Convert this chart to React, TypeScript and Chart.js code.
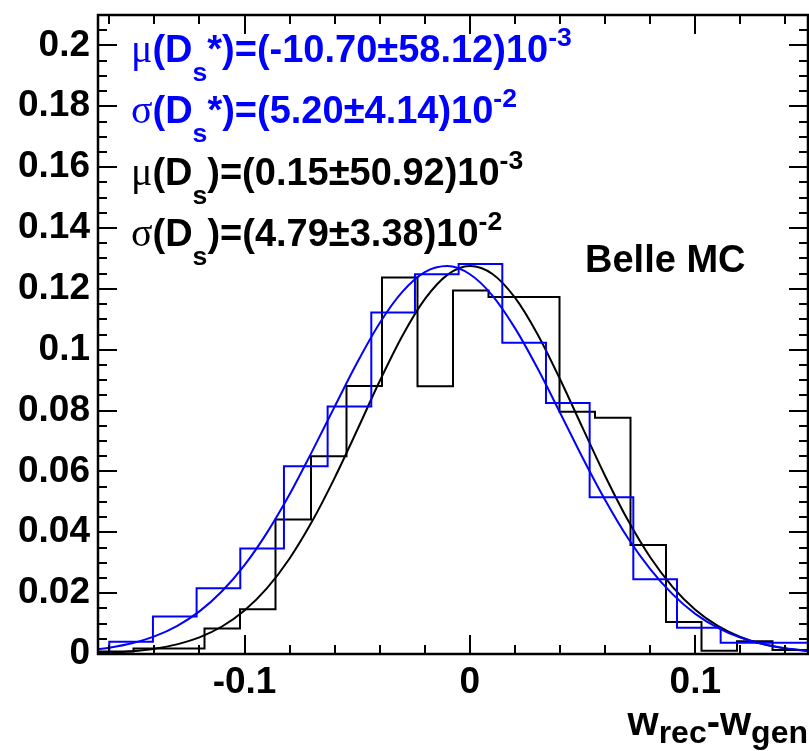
import React, { useEffect, useRef } from 'react';
import { Chart, registerables } from 'chart.js';

Chart.register(...registerables);

// ---- data ----
const blackEdges = [-0.165, -0.14925, -0.1335, -0.11775, -0.102, -0.08625, -0.0705, -0.05475, -0.039, -0.02325, -0.0075, 0.00825, 0.024, 0.03975, 0.0555, 0.07125, 0.087, 0.10275, 0.1185, 0.13425, 0.15];
const blackValues = [0.0008, 0.0018, 0.0018, 0.0084, 0.0147, 0.0442, 0.065, 0.0881, 0.1237, 0.088, 0.1195, 0.1173, 0.1173, 0.0796, 0.0776, 0.0358, 0.0105, 0.0011, 0.0042, 0.0013];

const blueEdges = [-0.16, -0.140625, -0.12125, -0.101875, -0.0825, -0.063125, -0.04375, -0.024375, -0.005, 0.014375, 0.03375, 0.053125, 0.0725, 0.091875, 0.11125, 0.130625, 0.15];
const blueValues = [0.004, 0.0123, 0.0216, 0.0347, 0.0617, 0.0813, 0.1122, 0.1248, 0.1282, 0.1023, 0.0825, 0.0515, 0.0246, 0.0086, 0.0037, 0.0037];

const fitX = [-0.165, -0.16, -0.15, -0.14, -0.13, -0.12, -0.11, -0.1, -0.09, -0.08, -0.07, -0.06, -0.05, -0.04, -0.03, -0.02, -0.01, 0, 0.01, 0.02, 0.03, 0.04, 0.05, 0.06, 0.07, 0.08, 0.09, 0.1, 0.11, 0.12, 0.13, 0.14, 0.15];
const blackFit = [0.00033, 0.00047, 0.00093, 0.00176, 0.00317, 0.00547, 0.00904, 0.0143, 0.02165, 0.0314, 0.0436, 0.0579, 0.0736, 0.0897, 0.1045, 0.1166, 0.1246, 0.1275, 0.1249, 0.1171, 0.1051, 0.0903, 0.0743, 0.0585, 0.0441, 0.0318, 0.022, 0.01455, 0.00921, 0.00559, 0.00324, 0.0018, 0.00096];
const blueFit = [0.00156, 0.00207, 0.00353, 0.00579, 0.00917, 0.014, 0.0206, 0.0292, 0.0399, 0.0525, 0.0666, 0.0813, 0.0958, 0.1088, 0.119, 0.1255, 0.1275, 0.1248, 0.1178, 0.1071, 0.0939, 0.0793, 0.0645, 0.0506, 0.0382, 0.0279, 0.0196, 0.0132, 0.00862, 0.00542, 0.00328, 0.00191, 0.00107];

const xLabelTicks = [-0.1, 0, 0.1];
const xMinorTicks = [-0.16, -0.14, -0.12, -0.08, -0.06, -0.04, -0.02, 0.02, 0.04, 0.06, 0.08, 0.12, 0.14];
const yLabelTicks = [0, 0.02, 0.04, 0.06, 0.08, 0.1, 0.12, 0.14, 0.16, 0.18, 0.2];
const yMinorTicks = [0.005, 0.01, 0.015, 0.025, 0.03, 0.035, 0.045, 0.05, 0.055, 0.065, 0.07, 0.075, 0.085, 0.09, 0.095, 0.105, 0.11, 0.115, 0.125, 0.13, 0.135, 0.145, 0.15, 0.155, 0.165, 0.17, 0.175, 0.185, 0.19, 0.195, 0.205];

const BLUE = '#0000ff';
const BLACK = '#000000';

type Part = { t: string; kind?: 'sub' | 'sup' | 'greek' };

const statLines: { color: string; parts: Part[] }[] = [
  { color: BLUE, parts: [{ t: 'μ', kind: 'greek' }, { t: '(D' }, { t: 's', kind: 'sub' }, { t: '*)=(-10.70±58.12)10' }, { t: '-3', kind: 'sup' }] },
  { color: BLUE, parts: [{ t: 'σ', kind: 'greek' }, { t: '(D' }, { t: 's', kind: 'sub' }, { t: '*)=(5.20±4.14)10' }, { t: '-2', kind: 'sup' }] },
  { color: BLACK, parts: [{ t: 'μ', kind: 'greek' }, { t: '(D' }, { t: 's', kind: 'sub' }, { t: ')=(0.15±50.92)10' }, { t: '-3', kind: 'sup' }] },
  { color: BLACK, parts: [{ t: 'σ', kind: 'greek' }, { t: '(D' }, { t: 's', kind: 'sub' }, { t: ')=(4.79±3.38)10' }, { t: '-2', kind: 'sup' }] },
];
const experimentLabel = 'Belle MC';
const xTitleParts: Part[] = [{ t: 'w' }, { t: 'rec', kind: 'sub' }, { t: '-w' }, { t: 'gen', kind: 'sub' }];

const SANS = '"Liberation Sans", Arial, Helvetica, sans-serif';
const SERIF = '"Liberation Serif", "Times New Roman", serif';

function histPoints(edges: number[], values: number[]) {
  const pts: { x: number; y: number }[] = [{ x: edges[0], y: 0 }];
  values.forEach((v, i) => pts.push({ x: edges[i], y: v }));
  pts.push({ x: edges[edges.length - 1], y: values[values.length - 1] });
  pts.push({ x: edges[edges.length - 1], y: 0 });
  return pts;
}

function setFont(ctx: CanvasRenderingContext2D, p: Part, size: number, subScale: number) {
  const fs = p.kind === 'sub' || p.kind === 'sup' ? size * subScale : size;
  ctx.font = p.kind === 'greek' ? `${fs * 1.05}px ${SERIF}` : `bold ${fs}px ${SANS}`;
}

function measureRich(ctx: CanvasRenderingContext2D, parts: Part[], size: number, subScale: number) {
  let w = 0;
  for (const p of parts) {
    setFont(ctx, p, size, subScale);
    w += ctx.measureText(p.t).width;
  }
  return w;
}

function drawRich(ctx: CanvasRenderingContext2D, x: number, y: number, parts: Part[], color: string, size: number, subScale: number, subDrop: number) {
  let cx = x;
  ctx.fillStyle = color;
  ctx.textAlign = 'left';
  ctx.textBaseline = 'alphabetic';
  for (const p of parts) {
    setFont(ctx, p, size, subScale);
    let dy = 0;
    if (p.kind === 'sub') dy = size * subDrop;
    if (p.kind === 'sup') dy = -size * 0.42;
    ctx.fillText(p.t, cx, y + dy);
    cx += ctx.measureText(p.t).width;
  }
}

const framePlugin = {
  id: 'rootFrame',
  afterDatasetsDraw(chart: any) {
    const { ctx, chartArea, scales } = chart;
    const { left, right, top, bottom } = chartArea;
    const x = scales.x;
    const y = scales.y;
    ctx.save();
    ctx.strokeStyle = BLACK;
    ctx.lineWidth = 2;
    ctx.lineCap = 'butt';
    const seg = (x1: number, y1: number, x2: number, y2: number) => {
      ctx.beginPath();
      ctx.moveTo(x1, y1);
      ctx.lineTo(x2, y2);
      ctx.stroke();
    };
    const MAJ = 19;
    const MIN = 9;
    for (const v of xLabelTicks) {
      const px = Math.round(x.getPixelForValue(v));
      seg(px, bottom, px, bottom - MAJ);
      seg(px, top, px, top + MAJ);
    }
    for (const v of xMinorTicks) {
      const px = Math.round(x.getPixelForValue(v));
      seg(px, bottom, px, bottom - MIN);
      seg(px, top, px, top + MIN);
    }
    for (const v of yLabelTicks) {
      const py = Math.round(y.getPixelForValue(v));
      seg(left, py, left + MAJ, py);
      seg(right, py, right - MAJ, py);
    }
    for (const v of yMinorTicks) {
      const py = Math.round(y.getPixelForValue(v));
      seg(left, py, left + MIN, py);
      seg(right, py, right - MIN, py);
    }
    ctx.lineWidth = 2.5;
    ctx.strokeRect(left, top, right - left, bottom - top);
    ctx.restore();
  },
  afterDraw(chart: any) {
    const { ctx, chartArea } = chart;
    const { left, right } = chartArea;
    ctx.save();
    const size = 38;
    const baselines = [62, 123, 185, 246];
    statLines.forEach((line, i) => {
      drawRich(ctx, left + 33, baselines[i], line.parts, line.color, size, 0.7, 0.5);
    });
    ctx.font = `bold 38px ${SANS}`;
    ctx.fillStyle = BLACK;
    ctx.textBaseline = 'alphabetic';
    ctx.textAlign = 'left';
    ctx.fillText(experimentLabel, 585, 272);
    // x-axis title, right aligned with the frame
    const tsize = 40;
    const w = measureRich(ctx, xTitleParts, tsize, 0.8);
    drawRich(ctx, right - w, 735, xTitleParts, BLACK, tsize, 0.8, 0.2);
    ctx.restore();
  },
};

export default function App() {
  const ref = useRef<HTMLCanvasElement | null>(null);
  useEffect(() => {
    if (!ref.current) return;
    const chart = new Chart(ref.current, {
      type: 'line',
      data: {
        datasets: [
          {
            label: 'Ds* fit',
            data: fitX.map((x, i) => ({ x, y: blueFit[i] })),
            borderColor: BLUE,
            borderWidth: 2,
            pointRadius: 0,
            cubicInterpolationMode: 'monotone',
            fill: false,
          },
          {
            label: 'Ds* hist',
            data: histPoints(blueEdges, blueValues),
            borderColor: BLUE,
            borderWidth: 2,
            pointRadius: 0,
            stepped: 'before',
            borderJoinStyle: 'miter',
            fill: false,
          },
          {
            label: 'Ds fit',
            data: fitX.map((x, i) => ({ x, y: blackFit[i] })),
            borderColor: BLACK,
            borderWidth: 2,
            pointRadius: 0,
            cubicInterpolationMode: 'monotone',
            fill: false,
          },
          {
            label: 'Ds hist',
            data: histPoints(blackEdges, blackValues),
            borderColor: BLACK,
            borderWidth: 2,
            pointRadius: 0,
            stepped: 'before',
            borderJoinStyle: 'miter',
            fill: false,
          },
        ],
      } as any,
      options: {
        animation: false,
        responsive: false,
        maintainAspectRatio: false,
        devicePixelRatio: 1,
        layout: { padding: { top: 15, right: 1, left: 0, bottom: 0 } },
        plugins: { legend: { display: false }, tooltip: { enabled: false }, title: { display: false } },
        scales: {
          x: {
            type: 'linear',
            min: -0.165,
            max: 0.15,
            grid: { display: false, drawTicks: false },
            border: { display: false },
            afterBuildTicks: (s: any) => {
              s.ticks = xLabelTicks.map((v) => ({ value: v }));
            },
            afterFit: (s: any) => {
              s.height = 97;
              s.paddingLeft = 0;
              s.paddingRight = 0;
            },
            ticks: {
              autoSkip: false,
              maxRotation: 0,
              padding: 7,
              color: BLACK,
              font: { family: SANS, size: 37, weight: 'bold' },
              callback: (v: any) => String(Number(Number(v).toFixed(2))),
            },
          },
          y: {
            type: 'linear',
            min: 0,
            max: 0.21,
            grid: { display: false, drawTicks: false },
            border: { display: false },
            afterBuildTicks: (s: any) => {
              s.ticks = yLabelTicks.map((v) => ({ value: v }));
            },
            afterFit: (s: any) => {
              s.width = 98;
              s.paddingTop = 0;
              s.paddingBottom = 0;
            },
            ticks: {
              autoSkip: false,
              padding: 8,
              color: BLACK,
              font: { family: SANS, size: 37, weight: 'bold' },
              callback: (v: any) => String(Number(Number(v).toFixed(3))),
            },
          },
        },
      } as any,
      plugins: [framePlugin],
    });
    return () => chart.destroy();
  }, []);
  return (
    <div style={{ position: 'absolute', left: 0, top: 0, width: 809, height: 751, background: '#fff' }}>
      <canvas ref={ref} width={809} height={751} style={{ display: 'block' }} />
    </div>
  );
}
